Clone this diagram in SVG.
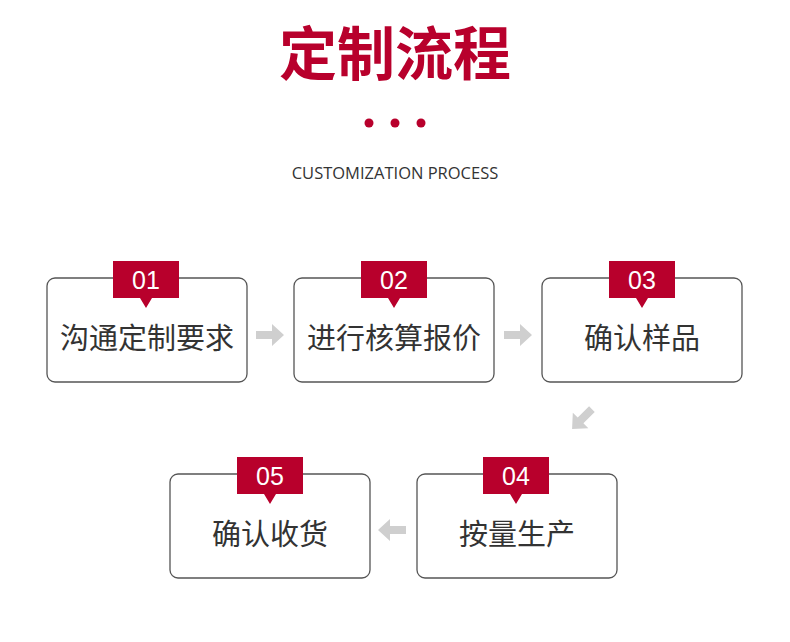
<svg xmlns="http://www.w3.org/2000/svg" width="790" height="642" viewBox="0 0 790 642">
<style>
.box{fill:#fff;stroke:#555;stroke-width:1.3}
.tag{fill:#b8002c}
.num{font-family:"Liberation Sans",Arial,sans-serif;font-size:25px;fill:#fff;text-anchor:middle}
.lbl{font-family:"Noto Sans CJK SC",sans-serif;font-size:29px;fill:#333;text-anchor:middle}
.arr{fill:#cfcfcf}
</style>
<rect width="790" height="642" fill="#fff"/>
<text x="395" y="75" text-anchor="middle" font-family="Noto Sans CJK SC,sans-serif" font-weight="bold" font-size="58" fill="#b8002c">定制流程</text>
<g fill="#b8002c"><circle cx="369" cy="123" r="4.5"/><circle cx="395" cy="123" r="4.5"/><circle cx="421" cy="123" r="4.5"/></g>
<text x="395" y="179" text-anchor="middle" font-family="Open Sans,sans-serif" font-size="16.5" fill="#333">CUSTOMIZATION PROCESS</text>
<defs><path id="t" d="M0 0h66v37h-27l-6 10l-6-10h-27z"/></defs>
<g id="n1"><rect class="box" x="47" y="278" width="200" height="104" rx="8"/><use href="#t" class="tag" x="113" y="261"/><text class="num" x="146" y="289">01</text><text class="lbl" x="147" y="349">沟通定制要求</text></g>
<g id="n2"><rect class="box" x="294" y="278" width="200" height="104" rx="8"/><use href="#t" class="tag" x="361" y="261"/><text class="num" x="394" y="289">02</text><text class="lbl" x="394" y="349">进行核算报价</text></g>
<g id="n3"><rect class="box" x="542" y="278" width="200" height="104" rx="8"/><use href="#t" class="tag" x="609" y="261"/><text class="num" x="642" y="289">03</text><text class="lbl" x="642" y="349">确认样品</text></g>
<g id="n4"><rect class="box" x="417" y="474" width="200" height="104" rx="8"/><use href="#t" class="tag" x="483" y="457"/><text class="num" x="516" y="485">04</text><text class="lbl" x="517" y="545">按量生产</text></g>
<g id="n5"><rect class="box" x="170" y="474" width="200" height="104" rx="8"/><use href="#t" class="tag" x="237" y="457"/><text class="num" x="270" y="485">05</text><text class="lbl" x="270" y="545">确认收货</text></g>
<g id="connectors">
<path class="arr" d="M256 331h16v-7l12 11l-12 11v-7h-16z"/>
<path class="arr" d="M504 331h16v-7l12 11l-12 11v-7h-16z"/>
<path class="arr" d="M406 526h-16v-7l-12 11l12 11v-7h16z" />
<path class="arr" transform="translate(582 419) rotate(135)" d="M-14-4h16v-7l12 11l-12 11v-7h-16z"/>
</g>
</svg>
